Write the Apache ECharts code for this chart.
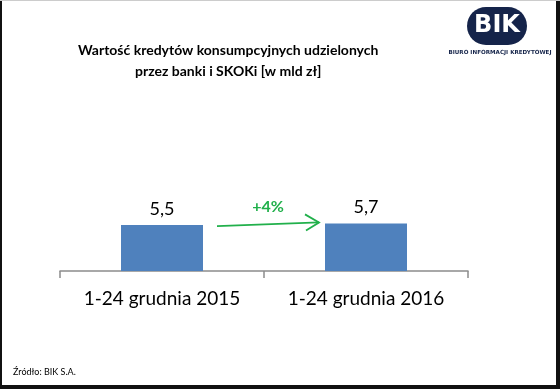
<!DOCTYPE html>
<html><head><meta charset="utf-8">
<script src="https://cdn.jsdelivr.net/npm/echarts@6/dist/echarts.min.js"></script>
<style>html,body{margin:0;padding:0;background:#fff}#c{width:560px;height:389px}</style>
</head><body><div id="c"></div>
<script>
const categories = ['1-24 grudnia 2015', '1-24 grudnia 2016'];
const values = [5.5, 5.7];
const valueLabels = ['5,5', '5,7'];
const changeLabel = '+4%';
const titleLines = ['Wartość kredytów konsumpcyjnych udzielonych', 'przez banki i SKOKi [w mld zł]'];
const sourceText = 'Źródło: BIK S.A.';

const chart = echarts.init(document.getElementById('c'), null, {renderer: 'canvas'});
const font = 'Lato, "Open Sans", sans-serif';
const option = {
  animation: false,
  backgroundColor: '#fff',
  grid: {left: 60, right: 92, top: 104, bottom: 118, containLabel: false},
  xAxis: {
    type: 'category', data: categories,
    axisLine: {lineStyle: {color: '#8c8c8c', width: 1.5}},
    axisTick: {show: true, length: 7, lineStyle: {color: '#8c8c8c', width: 1.5}},
    axisLabel: {color: '#000', fontSize: 19, fontFamily: font, margin: 18}
  },
  yAxis: {type: 'value', min: 0, max: 20, show: false, splitLine: {show: false}},
  series: [{
    type: 'bar', data: values, barWidth: 82,
    itemStyle: {color: '#4f81bd'},
    label: {show: true, position: 'top', distance: 7, color: '#000', fontSize: 18, fontFamily: font,
      formatter: p => valueLabels[p.dataIndex]}
  }],
  graphic: [
    {type: 'text', left: 78, top: 40, style: {text: titleLines.join('\n'), fill: '#000', font: 'bold 14px ' + font, textAlign: 'center', lineHeight: 21}},
    {type: 'text', left: 13, top: 368, style: {text: sourceText, fill: '#000', font: '9px ' + font}},
    // border
    {type: 'rect', shape: {x: 0, y: 0, width: 2, height: 389}, style: {fill: '#111'}},
    {type: 'rect', shape: {x: 556, y: 0, width: 4, height: 389}, style: {fill: '#111'}},
    {type: 'rect', shape: {x: 0, y: 385, width: 560, height: 4}, style: {fill: '#111'}},
    {type: 'rect', shape: {x: 0, y: 0, width: 560, height: 1}, style: {fill: '#ccc'}},
    // logo
    {type: 'rect', shape: {x: 467, y: 7, width: 60, height: 38, r: 19}, style: {fill: '#15244a'}},
    {type: 'text', style: {x: 497, y: 26, text: 'BIK', fill: '#fff', font: 'bold 24px "DejaVu Sans", sans-serif', textAlign: 'center', textVerticalAlign: 'middle'}},
    {type: 'text', style: {x: 500, y: 53, text: 'BIURO INFORMACJI KREDYTOWEJ', fill: '#15244a', font: 'bold 5.6px "DejaVu Sans", sans-serif', textAlign: 'center', textVerticalAlign: 'middle'}}
  ]
};
chart.setOption(option);

// arrow between bars, positioned from the data scale
const p0 = chart.convertToPixel({seriesIndex: 0}, [0, values[0]]);
const p1 = chart.convertToPixel({seriesIndex: 0}, [1, values[1]]);
const half = 41;
const x0 = p0[0] + half + 14, y0 = p0[1] + 1;
const x1 = p1[0] - half - 6, y1 = p1[1] - 1;
const green = '#21b04b';
chart.setOption({graphic: option.graphic.concat([
  {type: 'line', shape: {x1: x0, y1: y0, x2: x1, y2: y1}, style: {stroke: green, lineWidth: 1.8}},
  {type: 'polyline', shape: {points: [[x1 - 14, y1 - 8], [x1, y1], [x1 - 13, y1 + 8]]}, style: {stroke: green, lineWidth: 1.8, fill: null}},
  {type: 'text', style: {x: (x0 + x1) / 2, y: y0 - 19, text: changeLabel, fill: green, font: 'bold 16px ' + font, textAlign: 'center', textVerticalAlign: 'middle'}}
])});
</script></body></html>
